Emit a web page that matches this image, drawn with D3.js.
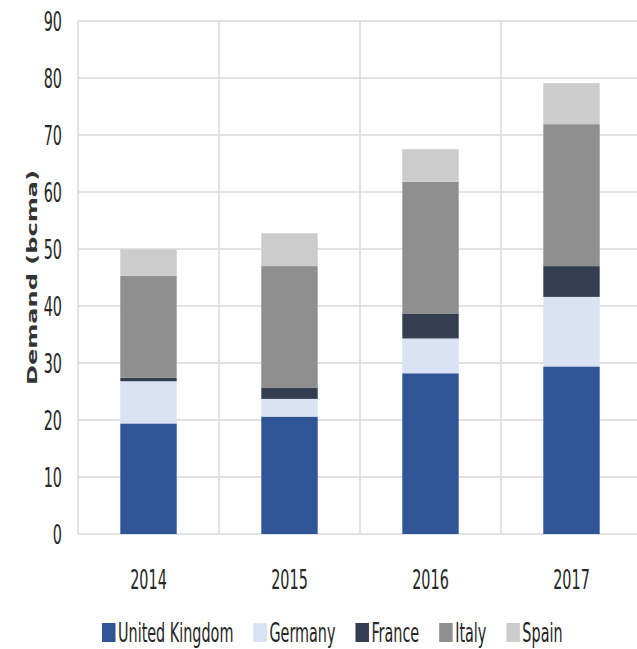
<!DOCTYPE html>
<html>
<head>
<meta charset="utf-8">
<script src="https://cdn.jsdelivr.net/npm/d3@7"></script>
<style>
  html, body { margin: 0; padding: 0; background: #fff; }
  svg { display: block; }
  .lbl { font-family: "Liberation Sans Narrow", "DejaVu Sans Condensed", "Liberation Sans", sans-serif; fill: #262626; }
</style>
</head>
<body>
<svg id="chart" width="637" height="649"></svg>
<script>
// Gas demand by country, bcma
const years = ["2014", "2015", "2016", "2017"];
const countries = ["United Kingdom", "Germany", "France", "Italy", "Spain"];
const unitedKingdom = [19.4, 20.6, 28.2, 29.4];
const germany       = [7.4, 3.1, 6.1, 12.2];
const france        = [0.6, 2.0, 4.4, 5.4];
const italy         = [17.9, 21.3, 23.1, 24.9];
const spain         = [4.6, 5.75, 5.7, 7.2];
const yTicks = [0, 10, 20, 30, 40, 50, 60, 70, 80, 90];
const colors = ["#2F5597", "#DAE3F3", "#333F50", "#8F8F8F", "#CCCCCC"];

const seriesValues = [unitedKingdom, germany, france, italy, spain];
const rows = years.map((yr, i) => {
  const r = { year: yr };
  countries.forEach((c, k) => { r[c] = seriesValues[k][i]; });
  return r;
});

const svg = d3.select("#chart");
const plot = { left: 78, right: 642, top: 21, bottom: 534 };
const SX = 0.82, SY = 1.4;   // tall, condensed lettering
const FONT = 19.5;

const x = d3.scaleBand().domain(years).range([plot.left, plot.right]).padding(0);
const y = d3.scaleLinear().domain([0, 90]).range([plot.bottom, plot.top]);
const color = d3.scaleOrdinal().domain(countries).range(colors);

const stacked = d3.stack().keys(countries)(rows);

// horizontal gridlines
svg.append("g")
  .selectAll("line")
  .data(yTicks)
  .join("line")
  .attr("x1", plot.left).attr("x2", plot.right)
  .attr("y1", d => y(d)).attr("y2", d => y(d))
  .attr("stroke", "#D9D9D9").attr("stroke-width", 1.5);

// vertical gridlines at category boundaries
const edges = years.map(d => x(d)).concat([plot.right]);
svg.append("g")
  .selectAll("line")
  .data(edges)
  .join("line")
  .attr("x1", d => d).attr("x2", d => d)
  .attr("y1", plot.top).attr("y2", plot.bottom)
  .attr("stroke", "#D9D9D9").attr("stroke-width", 1.5);

// stacked bars
const barW = x.bandwidth() * 0.4;
svg.append("g")
  .selectAll("g")
  .data(stacked)
  .join("g")
  .attr("fill", d => color(d.key))
  .selectAll("rect")
  .data(d => d)
  .join("rect")
  .attr("x", d => x(d.data.year) + (x.bandwidth() - barW) / 2)
  .attr("width", barW)
  .attr("y", d => y(d[1]))
  .attr("height", d => y(d[0]) - y(d[1]));

// y axis tick labels
const yAxis = d3.axisLeft(y).tickValues(yTicks).tickSize(0).tickPadding(0);
const yG = svg.append("g").attr("transform", `translate(${plot.left - 16},0)`).call(yAxis);
yG.select(".domain").remove();
yG.selectAll("text")
  .attr("class", "lbl")
  .attr("font-size", FONT)
  .attr("dy", null)
  .attr("x", 0).attr("y", 0)
  .attr("dominant-baseline", "central")
  .attr("transform", `scale(${SX},${SY})`);

// x axis labels
const xAxis = d3.axisBottom(x).tickSize(0).tickPadding(0);
const xG = svg.append("g").attr("transform", `translate(0,${plot.bottom})`).call(xAxis);
xG.select(".domain").remove();
xG.selectAll("text")
  .attr("class", "lbl")
  .attr("font-size", FONT)
  .attr("dy", null)
  .attr("y", 0)
  .attr("dominant-baseline", "alphabetic")
  .attr("transform", `translate(0,55) scale(${SX},${SY})`);

// y axis title
svg.append("text")
  .attr("transform", "translate(36.5,277.5) rotate(-90)")
  .attr("text-anchor", "middle")
  .attr("font-family", "'DejaVu Sans', Verdana, sans-serif")
  .attr("font-weight", "bold")
  .attr("font-size", 14.5)
  .attr("fill", "#333333")
  .attr("textLength", 215)
  .attr("lengthAdjust", "spacingAndGlyphs")
  .text("Demand (bcma)");

// legend
const legend = svg.append("g").attr("transform", "translate(102,642)");
let lx = 0;
countries.forEach(c => {
  const item = legend.append("g").attr("transform", `translate(${lx},0)`);
  item.append("rect")
    .attr("x", 0).attr("y", -19)
    .attr("width", 13.5).attr("height", 19)
    .attr("fill", color(c));
  const t = item.append("text")
    .attr("class", "lbl")
    .attr("font-size", FONT)
    .attr("transform", `translate(16,0) scale(${SX},${SY})`)
    .text(c);
  const w = t.node().getComputedTextLength() * SX;
  lx += 16 + w + 20;
});
</script>
</body>
</html>
